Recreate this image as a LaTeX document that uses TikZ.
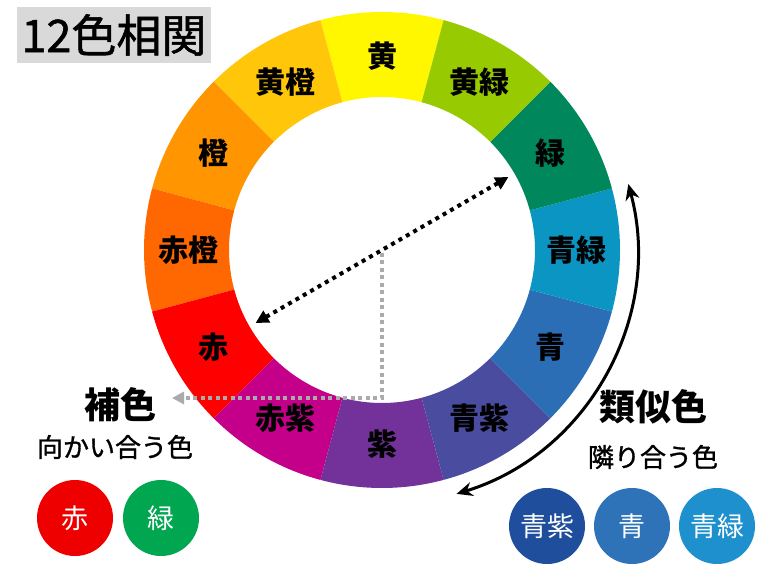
\documentclass[tikz,border=0pt]{standalone}
\usepackage{fontspec}
\setmainfont{Noto Sans CJK JP}
\newfontfamily\medfont[FakeBold=1.2]{Noto Sans CJK JP}
\usetikzlibrary{arrows.meta}
\definecolor{cYellow}{HTML}{FFF700}
\definecolor{cYelOrange}{HTML}{FFC60A}
\definecolor{cOrange}{HTML}{FF9500}
\definecolor{cRedOrange}{HTML}{FF6700}
\definecolor{cRed}{HTML}{FF0000}
\definecolor{cRedPurple}{HTML}{C4008A}
\definecolor{cPurple}{HTML}{72329A}
\definecolor{cBluePurple}{HTML}{4A4CA0}
\definecolor{cBlue}{HTML}{2B6EB6}
\definecolor{cBlueGreen}{HTML}{0A95C3}
\definecolor{cGreen}{HTML}{00875B}
\definecolor{cYelGreen}{HTML}{97CA00}
\definecolor{titlegray}{HTML}{D9D9D9}
\definecolor{dotgray}{HTML}{ABABAB}
\definecolor{kRed}{HTML}{EE0000}
\definecolor{kGreen}{HTML}{00A650}
\definecolor{kBluePurple}{HTML}{1F4E9D}
\definecolor{kBlue}{HTML}{2E73B8}
\definecolor{kBlueGreen}{HTML}{1E90CE}
\tikzset{
  seglabel/.style={font=\fontsize{30}{30}\selectfont\bfseries},
  sample/.style={circle,minimum size=76pt,inner sep=0pt,text=white,font=\fontsize{27}{27}\selectfont},
  headline/.style={font=\fontsize{36}{36}\selectfont\bfseries},
  subline/.style={font=\fontsize{26}{26}\selectfont\medfont}
}
\begin{document}
\begin{tikzpicture}[x=1pt,y=1pt]
  \useasboundingbox (0,0) rectangle (768,576);
  %title
  \node[fill=titlegray,minimum width=194pt,minimum height=56pt,inner sep=0pt,font=\fontsize{45}{45}\selectfont\medfont] (title) at (114,541) {12色相関};
  \begin{scope}[shift={(382,326)}]
  %黄
  \fill[cYellow] (75:238) arc[start angle=75,end angle=105,radius=238] -- (105:153) arc[start angle=105,end angle=75,radius=153] -- cycle;
  \node[seglabel] (yellow) at (90:194) {黄};
  %黄橙
  \fill[cYelOrange] (105:238) arc[start angle=105,end angle=135,radius=238] -- (135:153) arc[start angle=135,end angle=105,radius=153] -- cycle;
  \node[seglabel] (yelorange) at (120:194) {黄橙};
  %橙
  \fill[cOrange] (135:238) arc[start angle=135,end angle=165,radius=238] -- (165:153) arc[start angle=165,end angle=135,radius=153] -- cycle;
  \node[seglabel] (orange) at (150:194) {橙};
  %赤橙
  \fill[cRedOrange] (165:238) arc[start angle=165,end angle=195,radius=238] -- (195:153) arc[start angle=195,end angle=165,radius=153] -- cycle;
  \node[seglabel] (redorange) at (180:194) {赤橙};
  %赤
  \fill[cRed] (195:238) arc[start angle=195,end angle=225,radius=238] -- (225:153) arc[start angle=225,end angle=195,radius=153] -- cycle;
  \node[seglabel] (red) at (210:194) {赤};
  %赤紫
  \fill[cRedPurple] (225:238) arc[start angle=225,end angle=255,radius=238] -- (255:153) arc[start angle=255,end angle=225,radius=153] -- cycle;
  \node[seglabel] (redpurple) at (240:194) {赤紫};
  %紫
  \fill[cPurple] (255:238) arc[start angle=255,end angle=285,radius=238] -- (285:153) arc[start angle=285,end angle=255,radius=153] -- cycle;
  \node[seglabel] (purple) at (270:194) {紫};
  %青紫
  \fill[cBluePurple] (285:238) arc[start angle=285,end angle=315,radius=238] -- (315:153) arc[start angle=315,end angle=285,radius=153] -- cycle;
  \node[seglabel] (bluepurple) at (300:194) {青紫};
  %青
  \fill[cBlue] (315:238) arc[start angle=315,end angle=345,radius=238] -- (345:153) arc[start angle=345,end angle=315,radius=153] -- cycle;
  \node[seglabel] (blue) at (330:194) {青};
  %青緑
  \fill[cBlueGreen] (345:238) arc[start angle=345,end angle=375,radius=238] -- (15:153) arc[start angle=375,end angle=345,radius=153] -- cycle;
  \node[seglabel] (bluegreen) at (0:194) {青緑};
  %緑
  \fill[cGreen] (15:238) arc[start angle=15,end angle=45,radius=238] -- (45:153) arc[start angle=45,end angle=15,radius=153] -- cycle;
  \node[seglabel] (green) at (30:194) {緑};
  %黄緑
  \fill[cYelGreen] (45:238) arc[start angle=45,end angle=75,radius=238] -- (75:153) arc[start angle=75,end angle=45,radius=153] -- cycle;
  \node[seglabel] (yelgreen) at (60:194) {黄緑};
  %opposite
  \coordinate (oppA) at (210:146);
  \coordinate (oppB) at (30:146);
  \draw[line width=4pt,dash pattern=on 4pt off 4.5pt,{Triangle[length=13pt,width=13pt]}-{Triangle[length=13pt,width=13pt]}] (oppA) -- (oppB);
  %to 補色
  \coordinate (gstart) at (0,-3);
  \coordinate (gturn) at (0,-148);
  \coordinate (gend) at (-210,-148);
  \draw[dotgray,line width=4pt,dash pattern=on 4pt off 3.5pt,-{Triangle[length=12pt,width=12pt]}] (gstart) -- (gturn) -- (gend);
  %neighbours
  \coordinate (nbA) at (-73:255);
  \draw[line width=3pt,{Stealth[length=16pt,width=14pt]}-{Stealth[length=16pt,width=14pt]}] (nbA) arc[start angle=-73,end angle=15,radius=255];
  \end{scope}
  %補色
  \node[headline] (hosyoku) at (120,171) {補色};
  \node[subline] (hosyokusub) at (115,129) {向かい合う色};
  \node[sample,fill=kRed] (sRed) at (75,58) {赤};
  \node[sample,fill=kGreen] (sGreen) at (161,58) {緑};
  %類似色
  \node[headline] (ruiji) at (653,169) {類似色};
  \node[subline] (ruijisub) at (653,119) {隣り合う色};
  \node[sample,fill=kBluePurple] (sBluePurple) at (547,50) {青紫};
  \node[sample,fill=kBlue] (sBlue) at (632,50) {青};
  \node[sample,fill=kBlueGreen] (sBlueGreen) at (717,50) {青緑};
\end{tikzpicture}
\end{document}
